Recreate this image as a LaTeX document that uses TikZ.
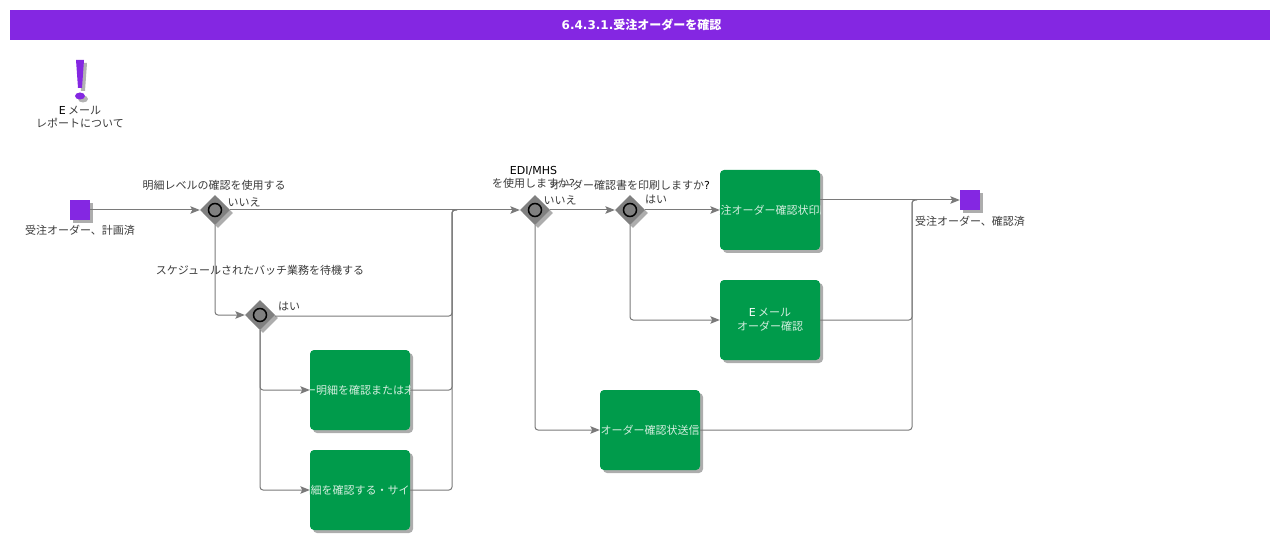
\documentclass[tikz,border=0pt]{standalone}
\usepackage{fontspec}
\setmainfont{Noto Sans CJK JP}
\newfontfamily\lat{DejaVu Sans}
\usetikzlibrary{arrows.meta,shapes.geometric,shadows,calc}
\definecolor{viol}{HTML}{8427E2}
\definecolor{grn}{HTML}{009B4B}
\definecolor{lin}{HTML}{7A7A7A}
\definecolor{dia}{HTML}{808080}
\definecolor{lab}{HTML}{3A3A3A}
\definecolor{boxt}{HTML}{D4EEDF}
\tikzset{
 softshadow/.style={drop shadow={shadow xshift=3pt,shadow yshift=-3pt,fill=black,opacity=.32}},
 conn/.style={draw=lin,line width=1pt,rounded corners=3pt},
 arr/.style={conn,-{Stealth[length=9.5pt,width=7.5pt,inset=2pt,fill=lin]}},
 lbl/.style={font=\fontsize{11}{13.5}\selectfont,text=lab,inner sep=0pt,align=center},
 blbl/.style={font=\fontsize{11}{13.5}\selectfont,text=boxt,inner sep=0pt,align=center},
 evt/.style={fill=viol,minimum size=20pt,inner sep=0pt,rectangle,softshadow},
 task/.style={fill=grn,minimum width=100pt,minimum height=80pt,inner sep=0pt,rectangle,rounded corners=4pt,softshadow},
 gate/.style={diamond,fill=dia,minimum width=30pt,minimum height=30pt,inner sep=0pt,softshadow},
 ring/.style={circle,draw=black,fill=dia,line width=1.5pt,minimum size=13pt,inner sep=0pt},
}
\begin{document}
\begin{tikzpicture}[x=1pt,y=-1pt]
\useasboundingbox (0,0) rectangle (1280,540);
\node[fill=viol,minimum width=1260pt,minimum height=30pt,inner sep=0pt] (title) at (640,25) {};
\node[font=\fontsize{12}{14}\selectfont\bfseries,text=white,inner sep=0pt] (titletext) at (641.5,25) {\lat 6.4.3.1.\normalfont\fontsize{12}{14}\selectfont\bfseries 受注オーダーを確認};
% exclamation icon
\fill[black,opacity=.3] (79,63) -- (87,63) -- (85,91) -- (81,91) -- cycle;
\fill[black,opacity=.3] (83,99) ellipse (5 and 3.5);
\fill[viol] (76,60) -- (84,60) -- (82,88) -- (78,88) -- cycle;
\fill[viol] (80,96) ellipse (5 and 3.5);
\node[lbl] (note) at (80,117) {{\lat\textcolor{black}{E}} メール\\レポートについて};
% events
\node[evt] (start) at (80,210) {};
\node[evt] (end) at (970,200) {};
\node[lbl] (startl) at (80,230) {受注オーダー、計画済};
\node[lbl] (endl) at (970,221) {受注オーダー、確認済};
% gateways
\foreach \n/\x/\y in {d1/215/210,d2/260/315,d3/535/210,d4/630/210}{
  \node[gate] (\n) at (\x,\y) {};
  \node[ring] (\n r) at (\x,\y) {};
}
% tasks
\node[task] (t1) at (360,390) {};
\node[task] (t2) at (360,490) {};
\node[task] (t3) at (770,210) {};
\node[task] (t4) at (770,320) {};
\node[task] (t5) at (650,430) {};
\begin{scope}\clip (t1.north west) rectangle (t1.south east);
\node[blbl] (t1l) at (t1.center) {ー明細を確認または未};\end{scope}
\begin{scope}\clip (t2.north west) rectangle (t2.south east);
\node[blbl] (t2l) at (t2.center) {明細を確認する・サイン};\end{scope}
\begin{scope}\clip (t3.north west) rectangle (t3.south east);
\node[blbl] (t3l) at (t3.center) {受注オーダー確認状印刷};\end{scope}
\node[blbl] (t4l) at (t4.center) {{\lat\textcolor{white}{E}} メール\\オーダー確認};
\node[blbl] (t5l) at (t5.center) {オーダー確認状送信};
% merge points
\coordinate (m1) at (452,210);
\coordinate (m2) at (912,200);
% connectors
\draw[arr] (start.east) -- (d1.west);
\draw[arr] (d1.east) -- (d3.west);
\draw[arr] (d1.south) |- (d2.west);
\draw[conn] ([yshift=-1pt]d2.east) -| (m1) -- ++(5,0);
\draw[arr] (d2.south) |- (t1.west);
\draw[arr] (d2.south) |- (t2.west);
\draw[conn] (t1.east) -| (m1) -- ++(5,0);
\draw[conn] (t2.east) -| (m1) -- ++(5,0);
\draw[arr] (d3.east) -- (d4.west);
\draw[arr] (d4.east) -- (t3.west);
\draw[arr] (d4.south) |- (t4.west);
\draw[arr] (d3.south) |- (t5.west);
\draw[arr] (t3.east |- end.west) -- (end.west);
\draw[conn] (t4.east) -| (m2) -- ++(5,0);
\draw[conn] (t5.east) -| (m2) -- ++(5,0);
% labels
\node[lbl] (q1) at (214,185) {明細レベルの確認を使用する};
\node[lbl] (a1) at (244,202) {いいえ};
\node[lbl] (q2) at (260,270) {スケジュールされたバッチ業務を待機する};
\node[lbl] (a2) at (289,306) {はい};
\node[lbl] (q3) at (533.5,177.5) {{\lat\textcolor{black}{EDI/MHS}}\\を使用しますか{\lat ?}};
\node[lbl] (a3) at (560,200) {いいえ};
\node[lbl] (q4) at (630,185) {オーダー確認書を印刷しますか{\lat\textcolor{black}{?}}};
\node[lbl] (a4) at (656,199) {はい};
\end{tikzpicture}
\end{document}
